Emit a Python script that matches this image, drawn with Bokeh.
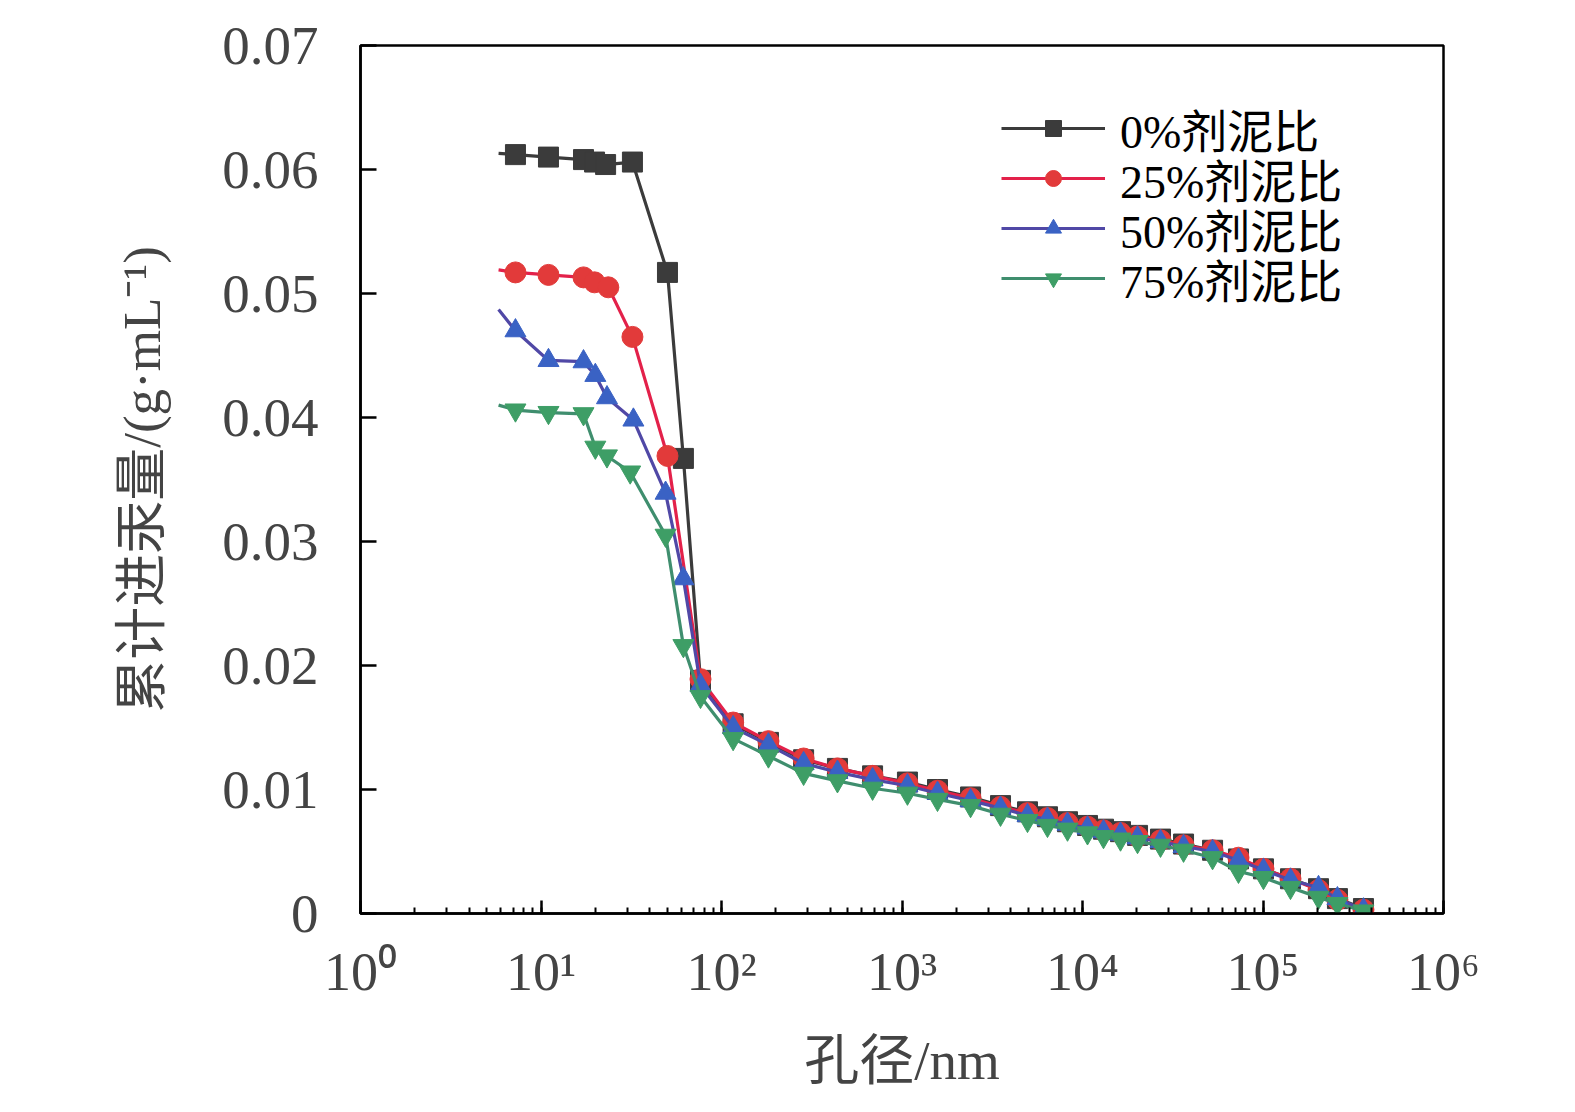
from bokeh.plotting import figure
from bokeh.models import Range1d, FixedTicker, LogTicker, CustomJSTickFormatter, Legend, LegendItem
from bokeh.embed import file_html
from bokeh.resources import INLINE

# ---- data ----
x_head = [5.82, 7.22, 11.0, 17.2, 19.8, 22.8, 32.1, 50.2, 61.5, 76.5]
x_tail = [116, 182, 285, 439, 687, 1072, 1573, 2398, 3514, 4958, 6397, 8260,
          10660, 13070, 16240, 20180, 27050, 36290, 52540, 73140, 100600,
          142000, 203000, 258500, 360300]

y0_head = [0.0613, 0.0612, 0.0610, 0.0608, 0.0606, 0.0604, 0.0606, 0.0517, 0.0367, 0.0188]
y0_tail = [0.0153, 0.0138, 0.0124, 0.0117, 0.0111, 0.0106, 0.0100, 0.0094, 0.0087,
           0.0082, 0.0078, 0.0074, 0.0071, 0.0068, 0.0066, 0.0063, 0.0060, 0.0056,
           0.0051, 0.0044, 0.0036, 0.0028, 0.0020, 0.0012, 0.0004]

x25_head = [5.82, 7.22, 11.0, 17.2, 19.8, 23.6, 32.1, 50.2, 76.5]
y25_head = [0.0519, 0.0517, 0.0515, 0.0513, 0.0509, 0.0505, 0.0465, 0.0369, 0.0189]
y25_tail = [0.0154, 0.0139, 0.0125, 0.0117, 0.0111, 0.0105, 0.0099, 0.0093, 0.0086,
            0.0081, 0.0077, 0.0073, 0.0070, 0.0067, 0.0065, 0.0062, 0.0059, 0.0055,
            0.0051, 0.0045, 0.0036, 0.0028, 0.0019, 0.0011, 0.0003]

x50_head = [5.82, 7.22, 11.0, 17.2, 20.0, 23.2, 32.5, 49.0, 61.5, 76.5]
y50_head = [0.0487, 0.0470, 0.0446, 0.0445, 0.0434, 0.0416, 0.0398, 0.0339, 0.0270, 0.0184]
y50_tail = [0.0150, 0.0136, 0.0121, 0.0114, 0.0108, 0.0103, 0.0097, 0.0091, 0.0085,
            0.0079, 0.0076, 0.0072, 0.0069, 0.0066, 0.0064, 0.0061, 0.0058, 0.0054,
            0.0050, 0.0043, 0.0035, 0.0027, 0.0021, 0.0012, 0.0003]

x75_head = [5.82, 7.22, 11.0, 17.2, 20.0, 23.2, 31.2, 49.0, 61.5, 76.5]
y75_head = [0.0410, 0.0406, 0.0404, 0.0403, 0.0376, 0.0369, 0.0356, 0.0305, 0.0216, 0.0175]
y75_tail = [0.0141, 0.0127, 0.0113, 0.0107, 0.0101, 0.0097, 0.0092, 0.0087, 0.0080,
            0.0075, 0.0071, 0.0068, 0.0065, 0.0062, 0.0060, 0.0058, 0.0055, 0.0051,
            0.0045, 0.0034, 0.0029, 0.0021, 0.0013, 0.0008, 0.0002]

labels = ["0%剂泥比", "25%剂泥比", "50%剂泥比", "75%剂泥比"]
y_ticks = [0, 0.01, 0.02, 0.03, 0.04, 0.05, 0.06, 0.07]

FONT = "'Liberation Serif', 'Noto Sans CJK SC', serif"

p = figure(width=1560, height=1096, x_axis_type="log",
           x_range=Range1d(1, 1e6), y_range=Range1d(0, 0.07),
           output_backend="svg", toolbar_location=None,
           min_border_left=360, min_border_right=117,
           min_border_top=45, min_border_bottom=183)
p.background_fill_color = "white"
p.border_fill_color = "white"
p.grid.visible = False
p.outline_line_color = "black"
p.outline_line_width = 2.5
p.outline_line_alpha = 1

series = [
    (x_head, y0_head, y0_tail, "#3b3b3b", "#3b3b3b", "square", 20),
    (x25_head, y25_head, y25_tail, "#e3214a", "#e23a3a", "circle", 21),
    (x50_head, y50_head, y50_tail, "#5048a6", "#3a62c4", "triangle", 21),
    (x75_head, y75_head, y75_tail, "#3f8e6e", "#3e9e66", "inverted_triangle", 21),
]

LEG_FS = 46
row_centers = [786, 736, 686, 636]
half_h = LEG_FS * 1.45 / 2

for (xh, yh, yt, lc, mc, mk, ms), lab, rc in zip(series, labels, row_centers):
    xs = xh + x_tail
    ys = yh + yt
    r1 = p.line(xs, ys, line_color=lc, line_width=3.2)
    r2 = p.scatter(xs[1:], ys[1:], marker=mk, size=ms, fill_color=mc,
                   line_color=mc, line_width=1)
    leg = Legend(items=[LegendItem(label=lab, renderers=[r1, r2])],
                 location=(641, int(rc - half_h)))
    leg.background_fill_alpha = 0
    leg.border_line_color = None
    leg.label_text_font = FONT
    leg.label_text_font_size = f"{LEG_FS}px"
    leg.label_text_color = "black"
    leg.glyph_width = 104
    leg.glyph_height = 40
    leg.label_height = 40
    leg.spacing = 0
    leg.padding = 0
    leg.margin = 0
    leg.label_standoff = 15
    p.add_layout(leg)

# y axis
ya = p.yaxis[0]
ya.ticker = FixedTicker(ticks=y_ticks)
ya.formatter = CustomJSTickFormatter(code="return tick == 0 ? '0' : tick.toFixed(2);")
ya.major_tick_in = 16
ya.major_tick_out = 0
ya.minor_tick_in = 0
ya.minor_tick_out = 0
ya.axis_line_width = 2.5
ya.major_tick_line_width = 2.5
ya.major_label_text_font = FONT
ya.major_label_text_font_size = "55px"
ya.major_label_standoff = 42
ya.axis_label = "累计进汞量/(g·mL⁻¹)"
ya.axis_label_text_font = FONT
ya.axis_label_text_font_size = "53px"
ya.axis_label_text_font_style = "normal"
ya.axis_label_standoff = 48

# x axis
xa = p.xaxis[0]
xa.ticker = LogTicker(desired_num_ticks=7, num_minor_ticks=10)
xa.formatter = CustomJSTickFormatter(code="""
const sup = {'0':'\u2070','1':'\u00b9','2':'\u00b2','3':'\u00b3','4':'\u2074','5':'\u2075','6':'\u2076','7':'\u2077','8':'\u2078','9':'\u2079','-':'\u207b'};
const e = Math.round(Math.log10(tick));
return '10' + String(e).split('').map(c => sup[c]).join('');
""")
xa.major_tick_in = 13
xa.major_tick_out = 0
xa.minor_tick_in = 6
xa.minor_tick_out = 0
xa.axis_line_width = 2.5
xa.major_tick_line_width = 2.5
xa.minor_tick_line_width = 2
xa.major_label_text_font = FONT
xa.major_label_text_font_size = "54px"
xa.major_label_standoff = 28
xa.axis_label = "孔径/nm"
xa.axis_label_text_font = FONT
xa.axis_label_text_font_size = "55px"
xa.axis_label_text_font_style = "normal"
xa.axis_label_standoff = 25

open("out.html", "w").write(file_html(p, INLINE))
